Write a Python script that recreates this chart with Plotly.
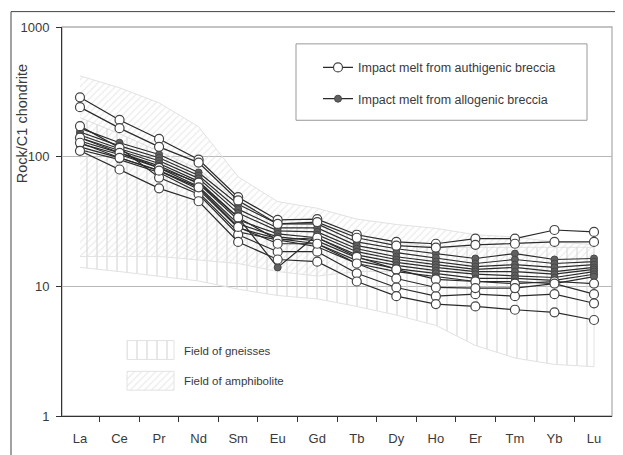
import plotly.graph_objects as go

elements = ["La", "Ce", "Pr", "Nd", "Sm", "Eu", "Gd", "Tb", "Dy", "Ho", "Er", "Tm", "Yb", "Lu"]

# Impact melt from authigenic breccia (open circles)
auth_1 = [287, 192, 137, 95, 48.7, 32.5, 33, 25, 22, 21.3, 23.3, 23.3, 27.2, 26.3]
auth_2 = [241, 166, 119, 90, 46, 30.3, 31.3, 23.7, 20.6, 19.9, 20.9, 21.3, 22, 22]
auth_3 = [172, 117, 69, 51.3, 25, 18.5, 18.5, 12.6, 9.8, 8.4, 8.7, 8.4, 8.7, 7.4]
auth_4 = [140, 107, 82, 63, 34, 22.8, 23.7, 16.9, 13.5, 11.3, 10.9, 10.5, 10.9, 10.5]
auth_5 = [128, 98, 78, 58, 28.7, 21.3, 21.3, 15, 11.5, 9.8, 9.7, 9.7, 10.5, 8.7]
auth_6 = [111, 79.6, 57, 45.3, 22, 16.1, 15.5, 10.9, 8.4, 7.3, 7.0, 6.6, 6.3, 5.5]

# Impact melt from allogenic breccia (filled circles)
allo_1 = [166, 128, 104, 75.5, 43, 30.3, 30.3, 22, 19.5, 17.9, 16.4, 17.9, 16.1, 16.4]
allo_2 = [155, 121, 98, 71.6, 39.4, 28.2, 28.2, 20.6, 18.2, 16.6, 15, 16.1, 15, 15.5]
allo_3 = [147, 115, 93, 68, 36.7, 26.8, 26.3, 19.5, 16.9, 15.5, 14.2, 14.7, 14, 14.7]
allo_4 = [140, 111, 88.5, 64.5, 34, 14, 25, 18.5, 16.1, 14.7, 13.5, 14, 13, 14]
allo_5 = [132, 107, 85, 62, 32.5, 25.4, 23.7, 17.5, 15.3, 14, 13, 13, 12.4, 13.5]
allo_6 = [126, 104, 82, 59, 30.3, 24.1, 22.4, 16.6, 14.5, 13.2, 12.4, 12.1, 11.7, 13]
allo_7 = [119, 98, 78, 56, 28.2, 23.3, 21.3, 15.8, 13.7, 12.6, 11.5, 11.5, 11.1, 12.4]
allo_8 = [113, 95, 75.5, 53, 26.3, 22.8, 20.2, 15, 13, 11.9, 10.9, 10.9, 10.5, 11.9]

# Fields
gneiss_upper = [200, 150, 110, 80, 45, 30, 30, 25, 22, 20, 20, 20, 20, 20]
gneiss_lower = [14, 13, 12, 11, 9.5, 8.5, 8, 7, 6, 5, 3.5, 2.8, 2.5, 2.4]
amph_upper = [420, 340, 260, 170, 70, 45, 40, 33, 30, 28, 25, 24, 22, 21]
amph_lower = [17, 17, 17, 16, 15, 13, 12, 13, 13, 13, 13, 13, 13, 13]

auth_series = [auth_1, auth_2, auth_3, auth_4, auth_5, auth_6]
allo_series = [allo_1, allo_2, allo_3, allo_4, allo_5, allo_6, allo_7, allo_8]

# Page offset (browser body margin) and plot-area geometry in figure pixels
OFF = 8
W, H = 623, 455
L, R, T, B = 54, 19, 16, 47
PW, PH = W - L - R, H - T - B


def px(x):  # page pixel x -> paper fraction
    return (x - OFF - L) / PW


def py(y):  # page pixel y -> paper fraction
    return (H - B - (y - OFF)) / PH


fig = go.Figure()

gneiss_pattern = dict(shape="|", fgcolor="#d2d2d2", bgcolor="rgba(0,0,0,0)", size=10, solidity=0.2)
amph_pattern = dict(shape="/", fgcolor="#d8d8d8", bgcolor="rgba(0,0,0,0)", size=5, solidity=0.25)

fig.add_trace(go.Scatter(
    x=elements + elements[::-1], y=gneiss_upper + gneiss_lower[::-1],
    fill="toself", fillcolor="rgba(0,0,0,0)", fillpattern=gneiss_pattern,
    mode="lines", line=dict(color="#e2e2e2", width=1), showlegend=False, hoverinfo="skip"))
fig.add_trace(go.Scatter(
    x=elements + elements[::-1], y=amph_upper + amph_lower[::-1],
    fill="toself", fillcolor="rgba(0,0,0,0)", fillpattern=amph_pattern,
    mode="lines", line=dict(color="#e2e2e2", width=1), showlegend=False, hoverinfo="skip"))

for i, s in enumerate(allo_series):
    fig.add_trace(go.Scatter(
        x=elements, y=s, mode="lines+markers",
        line=dict(color="#2a2a2a", width=1.2),
        marker=dict(symbol="circle", size=7, color="#606060", line=dict(color="#484848", width=1)),
        name="Impact melt from allogenic breccia", legendgroup="allo", legendrank=2,
        showlegend=(i == 0)))

for i, s in enumerate(auth_series):
    fig.add_trace(go.Scatter(
        x=elements, y=s, mode="lines+markers",
        line=dict(color="#2a2a2a", width=1.2),
        marker=dict(symbol="circle", size=9, color="white", line=dict(color="#444", width=1.2)),
        name="Impact melt from authigenic breccia", legendgroup="auth", legendrank=1,
        showlegend=(i == 0)))

# Legend swatches for the fields (overlay axis in plot-fraction units)
sw_x = [px(127), px(174), px(174), px(127), px(127)]
fig.add_trace(go.Scatter(
    x=sw_x, y=[py(359), py(359), py(340), py(340), py(359)], xaxis="x2", yaxis="y2",
    fill="toself", fillcolor="rgba(0,0,0,0)", fillpattern=gneiss_pattern,
    mode="lines", line=dict(color="#e2e2e2", width=1), showlegend=False, hoverinfo="skip"))
fig.add_trace(go.Scatter(
    x=sw_x, y=[py(390), py(390), py(371), py(371), py(390)], xaxis="x2", yaxis="y2",
    fill="toself", fillcolor="rgba(0,0,0,0)", fillpattern=amph_pattern,
    mode="lines", line=dict(color="#e2e2e2", width=1), showlegend=False, hoverinfo="skip"))

fig.update_layout(
    width=W, height=H,
    margin=dict(l=L, r=R, t=T, b=B),
    paper_bgcolor="white", plot_bgcolor="white",
    font=dict(family="Liberation Sans, Arial, sans-serif", size=12, color="#3a3a3a"),
    xaxis=dict(type="category", categoryorder="array", categoryarray=elements,
               range=[-0.455, 13.455], showline=True, linecolor="#333", linewidth=1,
               ticks="outside", tickson="boundaries", ticklen=5, tickcolor="#333",
               showgrid=False, zeroline=False, ticklabelstandoff=10,
               tickfont=dict(size=13, color="#3a3a3a")),
    yaxis=dict(type="log", range=[0, 3], tickvals=[1, 10, 100, 1000],
               ticktext=["1", "10", "100", "1000"], showgrid=True, gridcolor="#b8b8b8",
               gridwidth=1.3, showline=True, linecolor="#333", linewidth=1,
               ticks="outside", ticklen=5, tickcolor="#333", zeroline=False,
               ticklabelstandoff=4, tickfont=dict(size=13, color="#3a3a3a")),
    xaxis2=dict(overlaying="x", range=[0, 1], visible=False, fixedrange=True),
    yaxis2=dict(overlaying="y", range=[0, 1], visible=False, fixedrange=True),
    showlegend=True,
    legend=dict(x=px(318), y=py(50), xanchor="left", yanchor="top",
                bgcolor="rgba(0,0,0,0)", borderwidth=0, traceorder="grouped",
                tracegroupgap=12, font=dict(size=12.5, color="#3a3a3a")),
    shapes=[
        dict(type="rect", xref="paper", yref="paper", x0=0, x1=1, y0=0, y1=1,
             line=dict(color="#b0b0b0", width=1.3), layer="below"),
        dict(type="rect", xref="paper", yref="paper", x0=px(296), x1=px(587),
             y0=py(118), y1=py(41), line=dict(color="#999", width=1), layer="below"),
        dict(type="rect", xref="paper", yref="paper", x0=px(11), x1=px(660),
             y0=py(480), y1=py(8.5), line=dict(color="#444", width=1)),
    ],
    annotations=[
        dict(text="Rock/C1 chondrite", xref="paper", yref="paper", x=px(22), y=py(122),
             textangle=-90, showarrow=False, xanchor="center", yanchor="middle",
             font=dict(size=14.5, color="#3a3a3a")),
        dict(text="Field of gneisses", xref="paper", yref="paper", x=px(182), y=py(350),
             showarrow=False, xanchor="left", yanchor="middle", font=dict(size=11.5, color="#3a3a3a")),
        dict(text="Field of amphibolite", xref="paper", yref="paper", x=px(182), y=py(381),
             showarrow=False, xanchor="left", yanchor="middle", font=dict(size=11.5, color="#3a3a3a")),
    ],
)

fig.write_html("out.html")
